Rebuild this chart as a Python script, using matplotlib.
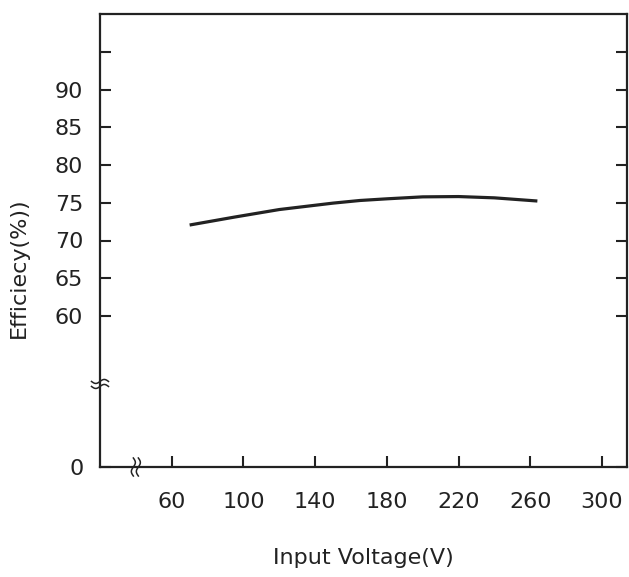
import numpy as np
import matplotlib
matplotlib.use("Agg")
import matplotlib.pyplot as plt
from matplotlib import transforms

# === Veri ===
voltage = [70, 95, 120, 150, 165, 180, 200, 220, 240, 264]
efficiency = [72.05, 73.1, 74.1, 74.95, 75.3, 75.52, 75.78, 75.82, 75.65, 75.23]

x_ticks = [60, 100, 140, 180, 220, 260, 300]
y_ticks = [40, 60, 65, 70, 75, 80, 85, 90, 95]
y_tick_labels = ["0", "60", "65", "70", "75", "80", "85", "90", ""]

x_break = 40   # x ekseni kırılma yeri
y_break = 51   # y ekseni kırılma yeri

INK = "#222222"
plt.rcParams["font.family"] = ["DejaVu Sans"]

fig = plt.figure(figsize=(6.29, 5.77), dpi=100)
ax = fig.add_axes([100 / 629, 1 - 467 / 577, 527 / 629, 453 / 577])

ax.plot(voltage, efficiency, color=INK, lw=2.3, solid_capstyle="butt")

ax.set_xlim(20, 314)
ax.set_ylim(40, 100)
ax.set_xticks(x_ticks)
ax.set_yticks(y_ticks)
ax.set_yticklabels(y_tick_labels)

for s in ax.spines.values():
    s.set_linewidth(1.6)
    s.set_color(INK)

ax.tick_params(axis="both", direction="in", length=8, width=1.5, color=INK,
               labelsize=16, labelcolor=INK)
ax.tick_params(axis="y", right=True, pad=12)
ax.tick_params(axis="x", pad=18)

ax.set_xlabel("Input Voltage(V)", fontsize=16, color=INK, labelpad=26)
ax.set_ylabel("Efficiecy(%))", fontsize=16, color=INK)
ax.yaxis.set_label_coords(-0.135, 0.44)

# === Kırılma işaretleri (piksel cinsinden çizilir) ===
t = np.linspace(-1, 1, 40)
wave = 2.0 * np.sin(np.pi * t)

# y ekseni: iki yatay dalga
yx, yy = ax.transData.transform((20, y_break))
for dy in (-2.5, 2.5):
    ax.plot(t * 8.5, wave + dy, color=INK, lw=1.1, clip_on=False,
            transform=transforms.Affine2D().translate(yx, yy))

# x ekseni: iki dikey dalga
xx, xy = ax.transData.transform((x_break, 40))
for dx in (-2.5, 2.5):
    ax.plot(wave + dx, t * 9, color=INK, lw=1.1, clip_on=False,
            transform=transforms.Affine2D().translate(xx, xy))

fig.savefig("out.png", dpi=100)
